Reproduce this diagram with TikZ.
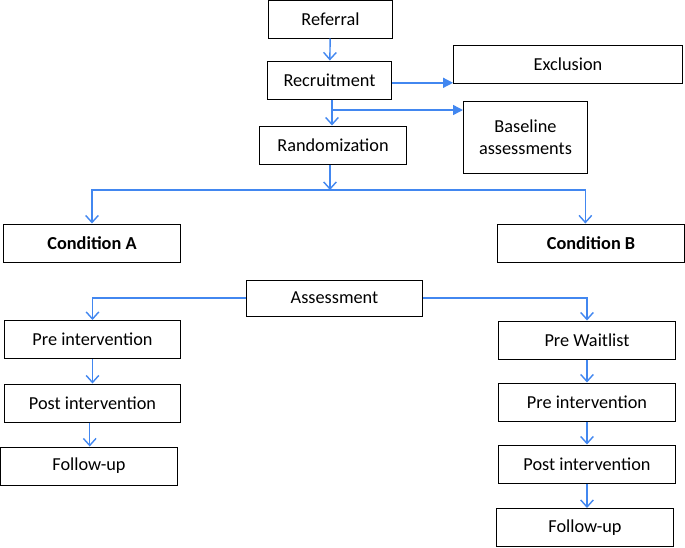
\documentclass[tikz,border=0pt]{standalone}
\usepackage{fontspec}
\setmainfont{Carlito}
\usetikzlibrary{arrows.meta}

\definecolor{flow}{RGB}{66,135,240}

\tikzset{
  box/.style={draw=black,line width=0.7pt,fill=white,minimum height=0.95cm,
    inner sep=2pt,font=\fontsize{13}{15.5}\selectfont,align=center},
  flowline/.style={draw=flow,line width=1pt},
  vtip/.style={flowline,arrows={-Straight Barb[length=5pt,width=9pt,line width=1pt]}},
  ftip/.style={flowline,arrows={-Triangle[length=7pt,width=7pt]}}
}

\begin{document}
\begin{tikzpicture}[x=0.025cm,y=-0.025cm]

    \useasboundingbox (0,0) rectangle (685,547);

    \node[box,minimum width=3.1cm] (ref) at (330.5,19) {Referral};
    \node[box,minimum width=3.1cm] (rec) at (329.5,80) {Recruitment};
    \node[box,minimum width=5.72cm] (exc) at (568,64) {Exclusion};
    \node[box,minimum width=3.1cm,minimum height=1.78cm] (base) at (525.5,137.5) {Baseline\\assessments};
    \node[box,minimum width=3.65cm] (rand) at (333,145) {Randomization};

    \node[box,minimum width=4.4cm] (conda) at (92,243) {\textbf{Condition A}};
    \node[box,minimum width=4.65cm] (condb) at (591,243) {\textbf{Condition B}};
    \node[box,minimum width=4.42cm,minimum height=0.9cm] (assess) at (334.5,298) {Assessment};

    \node[box,minimum width=4.42cm] (prea) at (92.5,339.5) {Pre intervention};
    \node[box,minimum width=4.42cm] (posta) at (92.5,403) {Post intervention};
    \node[box,minimum width=4.4cm] (fola) at (89,466) {Follow-up};

    \node[box,minimum width=4.4cm] (wait) at (587,340) {Pre Waitlist};
    \node[box,minimum width=4.4cm] (preb) at (587,402) {Pre intervention};
    \node[box,minimum width=4.4cm] (postb) at (587,464) {Post intervention};
    \node[box,minimum width=4.4cm] (folb) at (585,527.5) {Follow-up};

    \coordinate (fork) at (332,110);
    \coordinate (split) at (330,190);

    \draw[vtip] (ref) -- (rec);
    \draw[ftip] ([yshift=-2]rec.east) -- ([yshift=-2]rec.east -| exc.west);
    \draw[vtip] (rec.south -| fork) -- (rand.north -| fork);
    \draw[ftip] (fork) -- (fork -| base.west);
    \draw[vtip] (rand.south -| split) -- (split);
    \draw[vtip] (split) -| (conda.north);
    \draw[vtip] (split) -| ([xshift=-4]condb.north);

    \draw[vtip] (assess.west) -| (prea.north);
    \draw[vtip] (assess.east) -| (wait.north);
    \draw[vtip] (prea.south) -- (posta.north);
    \draw[vtip] ([xshift=-2]posta.south) -- ([xshift=-2]posta.south |- fola.north);
    \draw[vtip] (wait) -- (preb);
    \draw[vtip] (preb) -- (postb);
    \draw[vtip] (postb.south) -- (postb.south |- folb.north);

\end{tikzpicture}
\end{document}
